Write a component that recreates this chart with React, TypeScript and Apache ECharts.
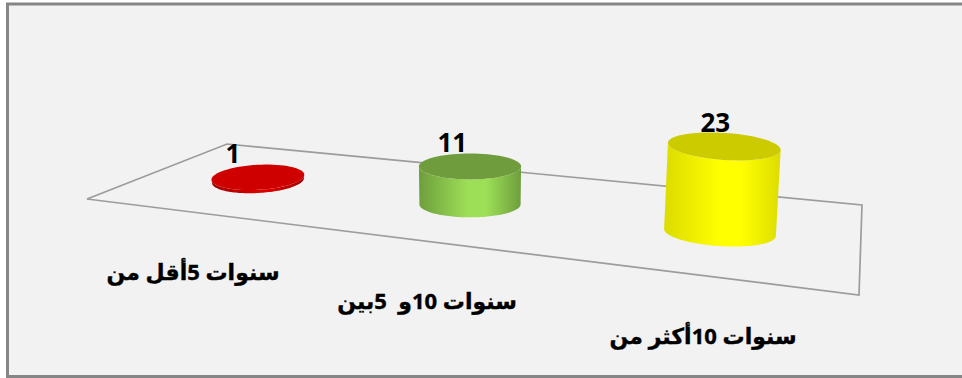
import React, { useEffect, useRef } from "react";
import * as echarts from "echarts";

// Years-of-experience groups and their counts
const categories = ["سنوات 5أقل من", "سنوات 10و  5بين", "سنوات 10أكثر من"];
const counts = [1, 11, 23];

// Top face, side edge and side centre tones for each cylinder
const topColors = ["#cf0000", "#6f9c3c", "#cbcb00"];
const edgeColors = ["#a00000", "#6e9e3c", "#dcdc00"];
const midColors = ["#d80000", "#9ddf57", "#ffff00"];

const WIDTH = 962;
const HEIGHT = 378;
const FONT = '"Open Sans", "DejaVu Sans", sans-serif';

// Oblique floor projection: bands of the category axis grow towards the viewer
const warpX = (x: number) => x - 0.000356 * (x - 258) * (720 - x);

// Sampled ellipse, optionally keeping only the part between two angles
function ellipsePoints(cx: number, cy: number, rx: number, ry: number, rot: number, from = 0, to = Math.PI * 2) {
  const pts: number[][] = [];
  const n = 72;
  for (let i = 0; i <= n; i++) {
    const a = from + ((to - from) * i) / n;
    const ex = rx * Math.cos(a);
    const ey = ry * Math.sin(a);
    pts.push([cx + ex * Math.cos(rot) - ey * Math.sin(rot), cy + ex * Math.sin(rot) + ey * Math.cos(rot)]);
  }
  return pts;
}

const renderCylinder = (params: any, api: any) => {
  const i = api.value(0);
  const v = api.value(1);
  const x = warpX(api.coord([i, 0])[0]);
  const baseY = 180.5 + (x - 258) * 0.1126;
  const h = api.size([0, v])[1] * (1 + 0.00034 * (x - 470));
  const rx = 46 + (x - 258) * 0.0216;
  const ry = 12.5 + (x - 258) * 0.0022;
  const rot = ((x - 470) * 0.0152 * Math.PI) / 180;
  const topX = x + h * (x - 470) * 0.0002;
  const topY = baseY - h;

  const front = ellipsePoints(x, baseY, rx, ry, rot, 0, Math.PI);
  const back = ellipsePoints(topX, topY, rx + 0.5, ry, rot, Math.PI, 0);
  const edge = edgeColors[i];
  const mid = midColors[i];

  return {
    type: "group",
    children: [
      {
        type: "polygon",
        shape: { points: [...front, ...back] },
        style: {
          fill: {
            type: "linear",
            x: 0,
            y: 0,
            x2: 1,
            y2: 0,
            colorStops: [
              { offset: 0, color: edge },
              { offset: 0.48, color: mid },
              { offset: 0.66, color: mid },
              { offset: 1, color: edge },
            ],
          },
        },
      },
      {
        type: "polygon",
        shape: { points: ellipsePoints(topX, topY, rx + 0.5, ry, rot) },
        style: { fill: topColors[i] },
      },
      {
        type: "text",
        style: {
          x: topX - 25 + (x - 258) * 0.0346,
          y: topY - 24,
          text: String(v),
          fill: "#000",
          font: `bold 26px ${FONT}`,
          align: "center",
          verticalAlign: "middle",
        },
      },
      {
        type: "text",
        style: {
          x: 193 + (x - 258) * 1.104,
          y: 271 + (x - 258) * 0.1385,
          text: categories[i],
          fill: "#000",
          stroke: "#000",
          lineWidth: 0.4,
          font: `bold 22px ${FONT}`,
          align: "center",
          verticalAlign: "middle",
        },
      },
    ],
  };
};

export default function App() {
  const ref = useRef<HTMLDivElement>(null);

  useEffect(() => {
    const chart = echarts.init(ref.current!, undefined, { renderer: "svg" });
    chart.setOption({
      animation: false,
      backgroundColor: "#ffffff",
      graphic: [
        {
          type: "rect",
          z: -2,
          shape: { x: 7.5, y: 4, width: 980, height: 372.5 },
          style: { fill: "#f2f2f2", stroke: "#868686", lineWidth: 3 },
        },
        {
          type: "polygon",
          z: -1,
          shape: {
            points: [
              [87, 199],
              [227, 144],
              [862, 205],
              [859, 295],
            ],
          },
          style: { fill: "none", stroke: "#9c9c9c", lineWidth: 1.7 },
        },
      ],
      grid: { left: 142.5, right: WIDTH - 835.5, top: 100, height: 86.25 },
      xAxis: { type: "category", data: categories, show: false },
      yAxis: { type: "value", min: 0, max: 25, show: false },
      series: [
        {
          type: "custom",
          clip: false,
          renderItem: renderCylinder,
          data: counts.map((c, i) => [i, c]),
          encode: { x: 0, y: 1 },
        },
      ],
    });
    return () => chart.dispose();
  }, []);

  return <div ref={ref} style={{ position: "absolute", left: 0, top: 0, width: WIDTH, height: HEIGHT }} />;
}
